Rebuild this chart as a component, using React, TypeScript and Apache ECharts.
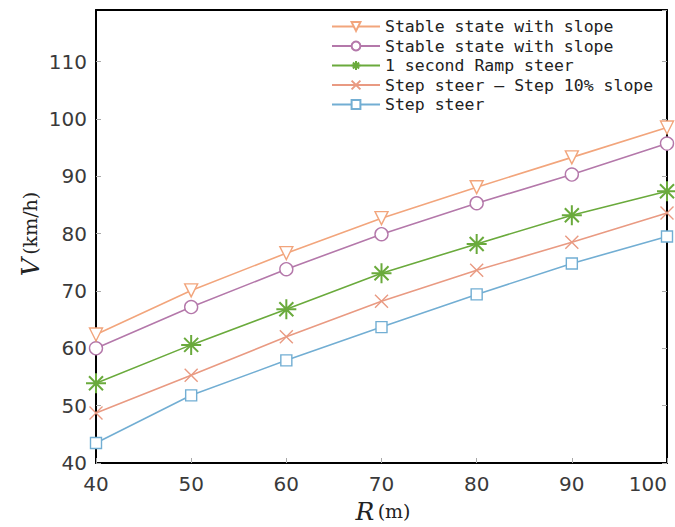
import React, { useEffect, useRef } from "react";
import * as echarts from "echarts";

const radii = [40, 50, 60, 70, 80, 90, 100];
const seriesNames = [
  "Stable state with slope",
  "Stable state with slope",
  "1 second Ramp steer",
  "Step steer – Step 10% slope",
  "Step steer",
];
const stableTri = [62.4, 70.1, 76.6, 82.7, 88.1, 93.3, 98.5];
const stableCircle = [60.0, 67.2, 73.8, 79.9, 85.3, 90.3, 95.7];
const rampSteer = [53.9, 60.6, 66.8, 73.1, 78.2, 83.2, 87.4];
const stepSlope = [48.7, 55.3, 62.0, 68.2, 73.6, 78.5, 83.6];
const stepSteer = [43.5, 51.8, 57.9, 63.7, 69.4, 74.8, 79.5];
const xTicks = [40, 50, 60, 70, 80, 90, 100];
const yTicks = [40, 50, 60, 70, 80, 90, 100, 110];

const colors = ["#f2a57c", "#b478aa", "#6aaa3c", "#e99a82", "#72aed3"];

const starPath = "path://M0,-10L0,10M-10,0L10,0M-7,-7L7,7M-7,7L7,-7";
const crossPath = "path://M-10,-10L10,10M-10,10L10,-10";

export default function App() {
  const ref = useRef<HTMLDivElement>(null);
  useEffect(() => {
    if (!ref.current) return;
    const chart = echarts.init(ref.current, undefined, { renderer: "svg" });
    const mk = (i: number, data: number[], symbol: string, size: number, extra: any = {}) => ({
      type: "line",
      name: seriesNames[i] + (i === 1 ? " " : ""),
      data: data.map((v, k) => [radii[k], v]),
      symbol,
      symbolSize: size,
      lineStyle: { color: colors[i], width: 1.6 },
      itemStyle: { color: "#fff", borderColor: colors[i], borderWidth: 1.4 },
      z: 5 - i,
      ...extra,
    });
    const labelFont = { fontFamily: "DejaVu Sans", fontSize: 20, color: "#3a3a3a" };
    chart.setOption({
      animation: false,
      backgroundColor: "#fff",
      grid: { left: 96, right: 8, top: 10, bottom: 64, outerBoundsMode: "none" },
      legend: {
        orient: "vertical",
        left: 326,
        top: 13,
        align: "left",
        itemWidth: 48,
        itemHeight: 11,
        itemGap: 2.5,
        textStyle: { fontFamily: "DejaVu Sans Mono", fontSize: 16.5, lineHeight: 17, color: "#222" },
        data: seriesNames.map((n, i) => n + (i === 1 ? " " : "")),
      },
      xAxis: [
        {
          type: "value",
          min: 40,
          max: 100,
          interval: 10,
          axisLine: { show: true, lineStyle: { color: "#000", width: 2 } },
          axisTick: { show: true, inside: true, length: 5, lineStyle: { color: "#aaa" } },
          axisLabel: {
            ...labelFont,
            margin: 11,
            alignMaxLabel: "right",
            formatter: (v: number) => (xTicks.includes(v) ? String(v) : ""),
          },
          splitLine: { show: false },
        },
        {
          type: "value",
          position: "top",
          min: 40,
          max: 100,
          interval: 10,
          axisLine: { show: true, lineStyle: { color: "#000", width: 2 } },
          axisTick: { show: false },
          axisLabel: { show: false },
          splitLine: { show: false },
        },
      ],
      yAxis: [
        {
          type: "value",
          min: 40,
          max: 119,
          interval: 10,
          axisLine: { show: true, lineStyle: { color: "#000", width: 2 } },
          axisTick: { show: true, inside: true, length: 5, lineStyle: { color: "#aaa" } },
          axisLabel: {
            ...labelFont,
            margin: 9,
            showMaxLabel: false,
            formatter: (v: number) => (yTicks.includes(v) ? String(v) : ""),
          },
          splitLine: { show: false },
        },
        {
          type: "value",
          position: "right",
          min: 40,
          max: 119,
          interval: 10,
          axisLine: { show: true, lineStyle: { color: "#000", width: 2 } },
          axisTick: { show: true, inside: true, length: 5, lineStyle: { color: "#aaa" } },
          axisLabel: { show: false },
          splitLine: { show: false },
        },
      ],
      series: [
        mk(0, stableTri, "triangle", 13, { symbolRotate: 180 }),
        mk(1, stableCircle, "circle", 13),
        mk(2, rampSteer, starPath, 20, {
          itemStyle: { color: "none", borderColor: colors[2], borderWidth: 2 },
        }),
        mk(3, stepSlope, crossPath, 13, {
          itemStyle: { color: "none", borderColor: colors[3], borderWidth: 1.4 },
        }),
        mk(4, stepSteer, "rect", 11),
      ],
      graphic: [
        {
          type: "text",
          x: 30,
          y: 234,
          rotation: Math.PI / 2,
          style: {
            text: "{i|V} {n|(km/h)}",
            align: "center",
            verticalAlign: "middle",
            rich: {
              i: { fontFamily: "DejaVu Serif", fontStyle: "italic", fontSize: 25, fill: "#222" },
              n: { fontFamily: "DejaVu Serif", fontSize: 19, fill: "#222" },
            },
          },
        },
        {
          type: "text",
          x: 383,
          y: 511,
          style: {
            text: "{i|R} {n|(m)}",
            align: "center",
            verticalAlign: "middle",
            rich: {
              i: { fontFamily: "DejaVu Serif", fontStyle: "italic", fontSize: 25, fill: "#222" },
              n: { fontFamily: "DejaVu Serif", fontSize: 19, fill: "#222" },
            },
          },
        },
      ],
    });
    return () => chart.dispose();
  }, []);
  return <div ref={ref} style={{ width: 675, height: 527, position: "absolute", left: 0, top: 0 }} />;
}
